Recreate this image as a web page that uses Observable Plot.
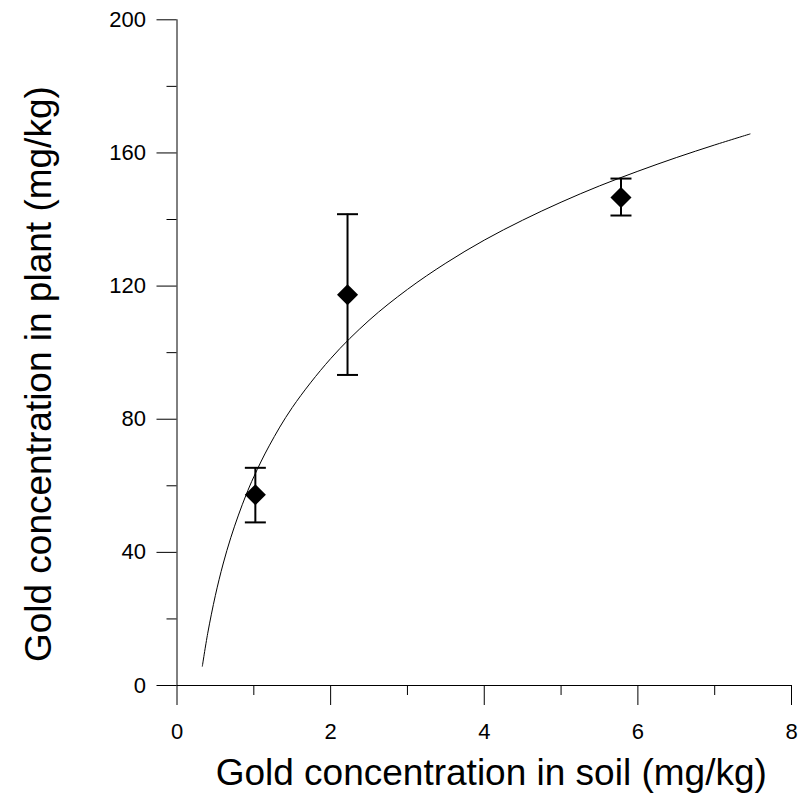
<!DOCTYPE html>
<html>
<head>
<meta charset="utf-8">
<script src="https://cdn.jsdelivr.net/npm/d3@7"></script>
<script src="https://cdn.jsdelivr.net/npm/@observablehq/plot@0.6"></script>
<style>
  html, body { margin: 0; padding: 0; background: #fff; }
  #chart svg { display: block; }
</style>
</head>
<body>
<div id="chart"></div>
<script>
// Measured points (soil vs plant gold concentration)
const soil = [1.02, 2.22, 5.78];
const plant = [57.3, 117.4, 146.6];
const plantLow = [49.0, 93.3, 141.2];
const plantHigh = [65.4, 141.6, 152.3];

// Fitted curve
const fitSoil = [0.33, 0.4, 0.5, 0.6, 0.7, 0.8, 0.9, 1.0, 1.2, 1.5, 2.0, 2.5, 3.0, 3.5, 4.0, 4.5, 5.0, 5.5, 6.0, 6.5, 7.0, 7.46];
const fitPlant = [5.8, 15.7, 27.1, 36.5, 44.4, 51.2, 57.3, 62.7, 72.0, 83.5, 98.2, 109.7, 119.0, 126.9, 133.8, 139.8, 145.2, 150.1, 154.5, 158.6, 162.4, 165.7];

// Axis ticks
const xMajor = [0, 2, 4, 6, 8];
const xMinor = [1, 3, 5, 7];
const yMajor = [0, 40, 80, 120, 160, 200];
const yMinor = [20, 60, 100, 140, 180];

const xTitle = "Gold concentration in soil (mg/kg)";
const yTitle = "Gold concentration in plant (mg/kg)";

const points = soil.map((s, i) => ({soil: s, plant: plant[i], low: plantLow[i], high: plantHigh[i]}));
const fit = fitSoil.map((s, i) => ({soil: s, plant: fitPlant[i]}));

const capSymbol = {
  draw(context, size) {
    const w = Math.sqrt(size / Math.PI);
    context.moveTo(-w, 0);
    context.lineTo(w, 0);
  }
};

const font = "'Liberation Sans', Arial, Helvetica, sans-serif";

const chart = Plot.plot({
  width: 800,
  height: 793,
  marginLeft: 176.5,
  marginRight: 9,
  marginTop: 19.3,
  marginBottom: 108,
  style: {fontFamily: font, fontSize: "22px", color: "#000", background: "#fff"},
  x: {domain: [0, 8]},
  y: {domain: [0, 200]},
  marks: [
    Plot.axisX({ticks: xMajor, tickSize: 20, tickPadding: 18, fontSize: 22, label: null, stroke: "#000", strokeOpacity: 1}),
    Plot.axisX({ticks: xMinor, tickSize: 10, tickFormat: () => "", label: null, stroke: "#000", strokeOpacity: 1}),
    Plot.axisY({ticks: yMajor, tickSize: 20, tickPadding: 11, fontSize: 22, label: null, stroke: "#000", strokeOpacity: 1}),
    Plot.axisY({ticks: yMinor, tickSize: 10, tickFormat: () => "", label: null, stroke: "#000", strokeOpacity: 1}),
    Plot.ruleX([0], {stroke: "#000", strokeWidth: 1}),
    Plot.ruleY([0], {stroke: "#000", strokeWidth: 1}),
    Plot.line(fit, {x: "soil", y: "plant", stroke: "#000", strokeWidth: 1, curve: "catmull-rom"}),
    Plot.ruleX(points, {x: "soil", y1: "low", y2: "high", stroke: "#000", strokeWidth: 2}),
    Plot.dot(points, {x: "soil", y: "low", symbol: capSymbol, r: 10.5, stroke: "#000", strokeWidth: 2, fill: "none"}),
    Plot.dot(points, {x: "soil", y: "high", symbol: capSymbol, r: 10.5, stroke: "#000", strokeWidth: 2, fill: "none"}),
    Plot.dot(points, {x: "soil", y: "plant", symbol: "diamond2", r: 9.5, fill: "#000", stroke: "none"}),
    Plot.text([xTitle], {text: d => d, frameAnchor: "bottom", textAnchor: "middle", lineAnchor: "bottom", dy: 99, dx: 7, fontSize: 37, fill: "#000", fontFamily: font}),
    Plot.text([yTitle], {text: d => d, frameAnchor: "left", textAnchor: "middle", lineAnchor: "bottom", rotate: -90, dx: -126.5, dy: 21.5, fontSize: 37, fill: "#000", fontFamily: font})
  ]
});

document.getElementById("chart").appendChild(chart);
</script>
</body>
</html>
